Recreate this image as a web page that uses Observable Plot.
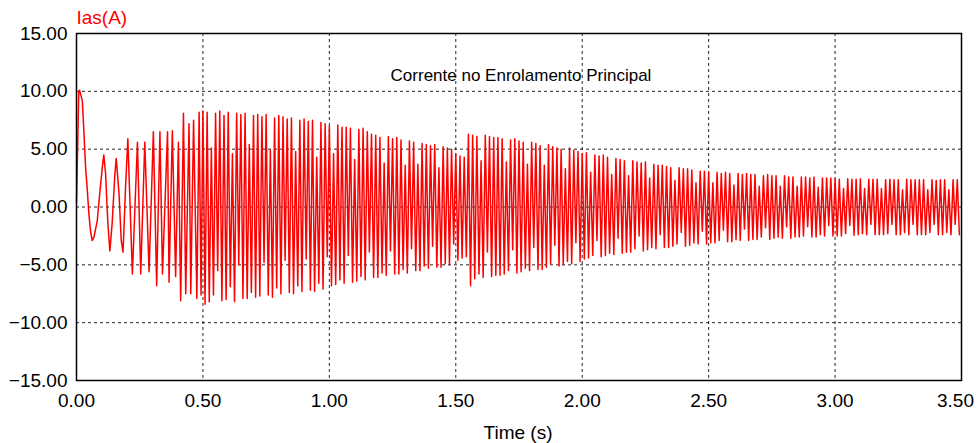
<!DOCTYPE html>
<html>
<head>
<meta charset="utf-8">
<script src="https://cdn.jsdelivr.net/npm/d3@7"></script>
<script src="https://cdn.jsdelivr.net/npm/@observablehq/plot@0.6"></script>
<style>
  html, body { margin: 0; padding: 0; background: #fff; }
  #chart svg { display: block; }
</style>
</head>
<body>
<div id="chart"></div>
<script>
// Main-winding current Ias(A) of the motor during start-up.

// Start-up transient: time (s) and current (A) of each turning point.
const startTime = [0.000, 0.009, 0.012, 0.023, 0.029, 0.036, 0.042, 0.049, 0.055, 0.062,
  0.069, 0.082, 0.092, 0.102, 0.108, 0.115, 0.124, 0.132, 0.141, 0.151,
  0.157, 0.168, 0.177, 0.184, 0.194, 0.203, 0.221, 0.241, 0.254, 0.270,
  0.287, 0.304, 0.317, 0.330, 0.340, 0.360, 0.366, 0.379, 0.392, 0.403,
  0.412, 0.423, 0.432, 0.445, 0.452, 0.463, 0.476, 0.485, 0.4925];
const startCurrent = [0.3, 10.0, 10.1, 9.2, 6.6, 3.4, 1.7, -0.6, -2.0, -2.9,
  -2.6, -1.2, 1.2, 3.4, 4.5, 2.9, -1.4, -3.8, -1.4, 2.6,
  4.2, 1.2, -2.9, -3.9, 1.7, 5.9, -5.8, 5.6, -5.8, 5.6,
  -5.6, 6.5, -6.8, 6.5, -5.8, 6.5, -6.5, 6.6, -6.0, 5.6,
  -8.1, 8.1, -7.5, 7.2, -7.5, 7.5, -7.9, 8.2, -7.6];

// From 0.5 s on: positive and negative peak of every 60 Hz cycle (A).
const cycleStart = 0.5;
const supplyHz = 60;
const positivePeaks = [
  8.3, 8.2, 5.1, 8.1, 8.3, 7.9, 8.2, 4.6, 8.1, 8.0,
  8.1, 5.4, 7.9, 8.0, 7.8, 8.0, 4.9, 7.7, 7.9, 7.8,
  7.6, 7.7, 4.8, 7.5, 7.6, 7.4, 7.5, 4.3, 7.3, 7.2,
  7.0, 4.6, 7.1, 6.9, 6.9, 6.8, 4.1, 6.7, 6.8, 6.5,
  6.3, 6.2, 6.0, 3.8, 6.1, 5.9, 6.0, 5.8, 3.6, 5.7,
  5.6, 3.7, 5.5, 5.4, 5.3, 5.4, 3.4, 5.2, 5.1, 5.0,
  4.6, 4.4, 4.3, 6.3, 6.2, 6.1, 4.0, 6.2, 6.1, 6.0,
  6.0, 5.9, 3.9, 5.8, 5.9, 5.7, 5.6, 3.7, 5.6, 5.5,
  5.3, 3.6, 5.4, 5.2, 5.1, 5.0, 3.3, 5.1, 4.9, 4.8,
  4.6, 4.7, 3.0, 4.5, 4.4, 4.5, 4.3, 2.8, 4.2, 4.1,
  4.0, 2.7, 4.0, 3.9, 3.8, 3.9, 2.5, 3.7, 3.6, 3.6,
  3.5, 3.4, 2.3, 3.4, 3.3, 3.3, 3.2, 2.1, 3.1, 3.1,
  3.0, 2.1, 3.0, 2.9, 3.0, 2.9, 1.9, 2.9, 2.8, 2.9,
  2.8, 2.8, 1.8, 2.7, 2.8, 2.7, 2.7, 1.8, 2.7, 2.6,
  2.6, 1.8, 2.6, 2.6, 2.5, 2.6, 1.7, 2.5, 2.5, 2.5,
  2.45, 2.4, 1.6, 2.45, 2.4, 2.4, 2.45, 1.6, 2.4, 2.4,
  2.4, 1.6, 2.35, 2.4, 2.35, 2.35, 1.5, 2.4, 2.35, 2.35,
  2.35, 2.35, 1.5, 2.35, 2.3, 2.35, 2.35, 1.5, 2.35, 2.35];
const negativePeaks = [
  -8.4, -8.2, -7.6, -5.5, -8.1, -8.0, -6.9, -8.2, -5.0, -7.9,
  -7.9, -7.4, -7.8, -7.7, -4.8, -7.6, -7.8, -7.0, -7.5, -4.6,
  -7.4, -7.5, -6.8, -7.3, -4.5, -7.2, -7.3, -6.6, -7.1, -4.3,
  -6.8, -6.7, -6.3, -6.6, -4.2, -6.5, -6.4, -6.0, -6.3, -3.9,
  -6.1, -6.1, -5.7, -5.9, -3.8, -5.8, -5.8, -5.4, -5.7, -3.6,
  -5.5, -5.5, -5.1, -5.3, -3.4, -5.2, -5.2, -4.9, -5.0, -3.2,
  -4.6, -4.4, -4.3, -6.8, -6.2, -5.8, -6.1, -3.9, -6.0, -5.9,
  -5.9, -5.8, -5.5, -3.7, -5.7, -5.6, -5.3, -5.5, -3.5, -5.4,
  -5.4, -5.2, -4.9, -3.3, -5.1, -5.0, -4.7, -4.9, -3.1, -4.7,
  -4.5, -4.4, -4.2, -2.9, -4.3, -4.2, -4.0, -4.1, -2.7, -4.0,
  -3.9, -3.9, -3.6, -2.5, -3.8, -3.7, -3.5, -3.6, -2.4, -3.5,
  -3.5, -3.4, -3.2, -2.2, -3.4, -3.3, -3.1, -3.2, -2.1, -3.2,
  -3.1, -3.1, -2.9, -2.0, -3.0, -3.0, -2.8, -2.9, -1.9, -2.9,
  -2.8, -2.8, -2.6, -1.8, -2.8, -2.7, -2.6, -2.7, -1.7, -2.7,
  -2.6, -2.6, -2.5, -1.7, -2.6, -2.6, -2.4, -2.5, -1.6, -2.5,
  -2.5, -2.5, -2.3, -1.6, -2.45, -2.4, -2.3, -2.4, -1.5, -2.4,
  -2.4, -2.4, -2.3, -1.5, -2.4, -2.4, -2.2, -2.4, -1.5, -2.4,
  -2.4, -2.4, -2.2, -1.5, -2.4, -2.4, -2.2, -2.4, -1.5, -2.4];

// Axis ticks and dashed grid positions.
const xTicks = [0, 0.5, 1.0, 1.5, 2.0, 2.5, 3.0];
const xLastTick = [3.5];
const yTicks = [-15, -10, -5, 0, 5, 10, 15];
const xGrid = [0.5, 1.0, 1.5, 2.0, 2.5, 3.0];
const yGrid = [-10, -5, 0, 5, 10];

const title = "Corrente no Enrolamento Principal";
const yLabel = "Ias(A)";
const xLabel = "Time (s)";

// Assemble the trace: transient points, then one crest and one trough per cycle.
const trace = startTime.map((t, k) => ({t, i: startCurrent[k]}));
positivePeaks.forEach((p, k) => {
  const t0 = cycleStart + k / supplyHz;
  trace.push({t: t0, i: p});
  trace.push({t: t0 + 1 / (2 * supplyHz), i: negativePeaks[k]});
});

const font = "'Liberation Sans', Arial, sans-serif";
const fmt = d3.format(".2f");

const chart = Plot.plot({
  width: 977,
  height: 443,
  marginLeft: 76,
  marginRight: 16,
  marginTop: 33,
  marginBottom: 63,
  style: {fontFamily: font, fontSize: "19px", background: "#fff", color: "#000"},
  x: {domain: [0, 3.5]},
  y: {domain: [-15, 15]},
  marks: [
    Plot.gridX(xGrid, {stroke: "#000", strokeOpacity: 0.85, strokeDasharray: "3,3"}),
    Plot.gridY(yGrid, {stroke: "#000", strokeOpacity: 0.85, strokeDasharray: "3,3"}),
    Plot.line(trace, {x: "t", y: "i", stroke: "#ff0000", strokeWidth: 1.5, curve: "linear"}),
    Plot.frame({stroke: "#000", strokeWidth: 1.5}),
    Plot.axisX(xTicks, {tickSize: 0, tickPadding: 13, tickFormat: fmt, label: null, fontSize: 19}),
    // the last label is nudged left so it stays inside the page
    Plot.axisX(xLastTick, {tickSize: 0, tickPadding: 13, tickFormat: fmt, label: null, fontSize: 19, dx: -6}),
    Plot.axisY(yTicks, {tickSize: 0, tickPadding: 9, tickFormat: fmt, label: null, fontSize: 19}),
    Plot.text([title], {frameAnchor: "top", lineAnchor: "middle", dx: 2, dy: 42, fontSize: 17, fill: "#000"}),
    Plot.text([yLabel], {frameAnchor: "top-left", textAnchor: "start", lineAnchor: "middle", dy: -16, fontSize: 19, fill: "#ff0000"}),
    Plot.text([xLabel], {frameAnchor: "bottom", lineAnchor: "middle", dx: -1, dy: 52, fontSize: 19, fill: "#000"})
  ]
});

document.getElementById("chart").appendChild(chart);
</script>
</body>
</html>
